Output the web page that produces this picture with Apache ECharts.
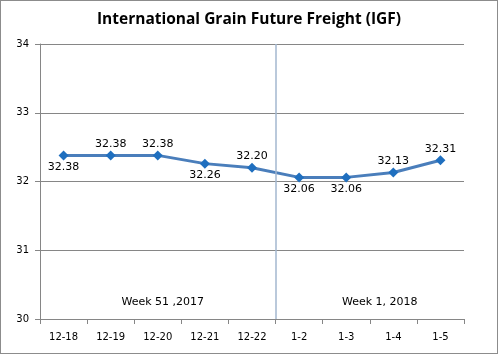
<!DOCTYPE html>
<html>
<head>
<meta charset="utf-8">
<script src="https://cdn.jsdelivr.net/npm/echarts@6/dist/echarts.min.js"></script>
<style>
  html, body { margin: 0; padding: 0; background: #fff; }
  #main { width: 498px; height: 354px; box-sizing: border-box; border: 1px solid #8c8c8c; }
</style>
</head>
<body>
<div id="main"></div>
<script>
// 数据
var categories = ['12-18', '12-19', '12-20', '12-21', '12-22', '1-2', '1-3', '1-4', '1-5'];
var values = [32.38, 32.38, 32.38, 32.26, 32.20, 32.06, 32.06, 32.13, 32.31];
var labelPos = ['bottom', 'top', 'top', 'bottom', 'top', 'bottom', 'bottom', 'top', 'top'];
var weekLabels = ['Week 51 ,2017', 'Week 1, 2018'];
var weekSplit = 5; // 周分隔位置（类目边界）

var myChart = echarts.init(document.getElementById('main'));

var option = {
  animation: false,
  textStyle: { fontFamily: 'DejaVu Sans' },
  title: {
    text: 'International Grain Future Freight (IGF)',
    left: 'center',
    top: 6,
    textStyle: { fontFamily: 'Open Sans', fontWeight: 'bold', fontSize: 15.5, color: '#000' }
  },
  grid: { left: 39, right: 33, top: 43, bottom: 34 },
  xAxis: [{
    type: 'category',
    data: categories,
    boundaryGap: true,
    axisLine: { lineStyle: { color: '#868686' } },
    axisTick: { show: true, alignWithLabel: false, length: 5, lineStyle: { color: '#868686' } },
    axisLabel: { color: '#000', fontSize: 10, margin: 13 }
  }, {
    type: 'value',
    min: 0,
    max: 9,
    show: false
  }],
  yAxis: {
    type: 'value',
    min: 30,
    max: 34,
    interval: 1,
    axisLine: { show: true, lineStyle: { color: '#868686' } },
    axisTick: { show: true, length: 5, lineStyle: { color: '#868686' } },
    axisLabel: { color: '#000', fontSize: 10, margin: 11 },
    splitLine: { lineStyle: { color: '#868686' } }
  },
  series: [{
    name: 'IGF',
    type: 'line',
    data: values.map(function (v, i) {
      return { value: v, label: { position: labelPos[i] } };
    }),
    symbol: 'diamond',
    symbolSize: 10,
    lineStyle: { color: '#4a7ebb', width: 3 },
    itemStyle: { color: '#1f6fbf' },
    label: {
      show: true,
      color: '#000',
      fontSize: 11,
      distance: 1,
      formatter: function (p) { return p.value.toFixed(2); }
    },
    z: 3
  }, {
    name: 'weeks',
    type: 'line',
    xAxisIndex: 1,
    data: [],
    markLine: {
      silent: true,
      symbol: 'none',
      label: { show: false },
      lineStyle: { color: '#a3b7cf', type: 'solid', width: 1.5 },
      data: [{ xAxis: weekSplit }]
    },
    markArea: {
      silent: true,
      itemStyle: { color: 'rgba(0,0,0,0)' },
      label: { position: 'insideBottom', distance: 11, color: '#000', fontSize: 11 },
      data: [
        [{ xAxis: 0, name: weekLabels[0], label: { offset: [5, 0] } }, { xAxis: weekSplit }],
        [{ xAxis: weekSplit, name: weekLabels[1], label: { offset: [10, 0] } }, { xAxis: 9 }]
      ]
    }
  }]
};

myChart.setOption(option);
</script>
</body>
</html>
